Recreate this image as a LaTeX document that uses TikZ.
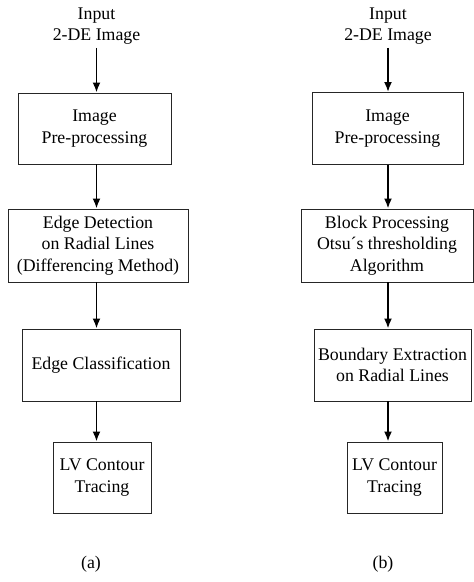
\documentclass[tikz,border=0pt]{standalone}
\usepackage{fontspec}
\setmainfont{Liberation Serif}
\usetikzlibrary{arrows.meta}
\begin{document}
\begin{tikzpicture}[x=1pt,y=-1pt,
  every node/.style={font=\fontsize{17.8}{21.4}\selectfont, align=center},
  stagebox/.style={draw=black!85, line width=0.9pt, inner sep=0pt},
  flow/.style={line width=1.9pt, -{Latex[length=10pt,width=8pt]}}]
\useasboundingbox (0,0) rectangle (474,582);

% ---- (a) differencing-based pipeline ----
\node (ina) at (96.5,26) {Input\\2-DE Image};
\node[stagebox, minimum width=153pt, minimum height=71pt] (a1) at (94.5,128.5) {Image\\Pre-processing};
\node[stagebox, minimum width=180pt, minimum height=73pt] (a2) at (98,245.5) {Edge Detection\\on Radial Lines\\(Differencing Method)};
\node[stagebox, minimum width=158pt, minimum height=72pt] (a3) at (101,365) {Edge Classification};
\node[stagebox, minimum width=98pt, minimum height=71pt] (a4) at (102,477.5) {LV Contour\\Tracing};
\node (la) at (91,564) {(a)};

\draw[flow] (ina.south) -- (ina |- a1.north);
\draw[flow] (ina |- a1.south) -- (ina |- a2.north);
\draw[flow] (ina |- a2.south) -- (ina |- a3.north);
\draw[flow] (ina |- a3.south) -- (ina |- a4.north);

% ---- (b) thresholding-based pipeline ----
\node (inb) at (388,26) {Input\\2-DE Image};
\node[stagebox, minimum width=151pt, minimum height=72pt] (b1) at (387.5,128.5) {Image\\Pre-processing};
\node[stagebox, minimum width=172pt, minimum height=73pt] (b2) at (387,245.5) {Block Processing\\Otsu´s thresholding\\Algorithm};
\node[stagebox, minimum width=157pt, minimum height=72pt] (b3) at (392.5,365) {Boundary Extraction\\on Radial Lines};
\node[stagebox, minimum width=95pt, minimum height=71pt] (b4) at (394.5,477.5) {LV Contour\\Tracing};
\node (lb) at (383,564) {(b)};

\draw[flow] (inb.south) -- (inb |- b1.north);
\draw[flow] (inb |- b1.south) -- (inb |- b2.north);
\draw[flow] (inb |- b2.south) -- (inb |- b3.north);
\draw[flow] (inb |- b3.south) -- (inb |- b4.north);
\end{tikzpicture}
\end{document}
